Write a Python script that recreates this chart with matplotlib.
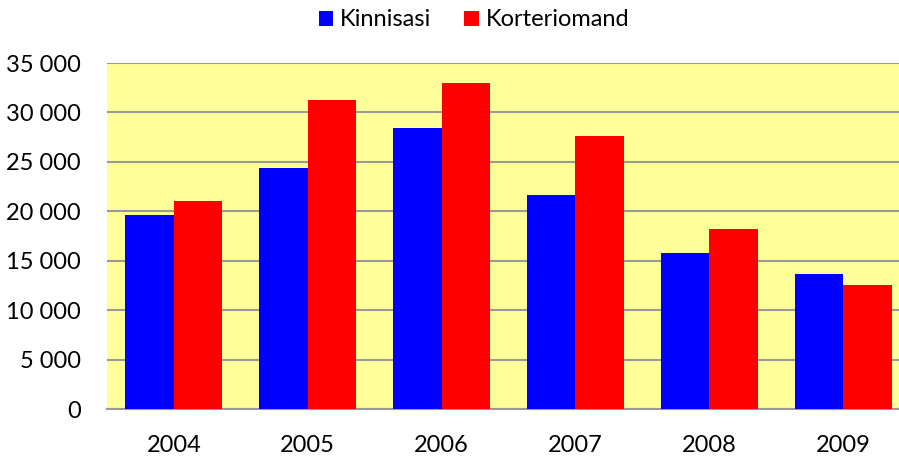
import numpy as np
import matplotlib.pyplot as plt

plt.rcParams['font.family'] = ['Lato', 'DejaVu Sans']

years = ['2004', '2005', '2006', '2007', '2008', '2009']
kinnisasi = [19600, 24400, 28450, 21600, 15750, 13700]
korteriomand = [21000, 31300, 33000, 27650, 18250, 12550]
y_ticks = [0, 5000, 10000, 15000, 20000, 25000, 30000, 35000]


def fmt(v):
    return f'{v:,}'.replace(',', ' ')


fig = plt.figure(figsize=(8.99, 4.63), dpi=100)
ax = fig.add_axes([107 / 899, 54 / 463, 803 / 899, 346 / 463])
ax.set_facecolor('#FFFF99')

x = np.arange(len(years))
w = 0.3625
ax.bar(x - w / 2, kinnisasi, w, color='#0000FF', label='Kinnisasi', zorder=3)
ax.bar(x + w / 2, korteriomand, w, color='#FF0000', label='Korteriomand', zorder=3)

ax.set_xlim(-0.5, len(years) - 0.5)
ax.set_ylim(0, 35000)
ax.set_yticks(y_ticks)
ax.set_yticklabels([fmt(v) for v in y_ticks], fontsize=17)
ax.set_xticks(x)
ax.set_xticklabels(years, fontsize=17)
ax.tick_params(axis='y', length=0, pad=19)
ax.tick_params(axis='x', length=0, pad=19)
ax.grid(axis='y', color='#999999', linewidth=1.5, zorder=1)
for s in ['left', 'right', 'top']:
    ax.spines[s].set_visible(False)
ax.spines['bottom'].set_color('#999999')
ax.spines['bottom'].set_linewidth(1.5)

fig.legend(loc='center', bbox_to_anchor=(474 / 899, 1 - 20 / 463), ncol=2,
           frameon=False, fontsize=17, handlelength=0.6, handleheight=0.6,
           handletextpad=0.3, columnspacing=1.4)

fig.savefig('out.png', dpi=100)
